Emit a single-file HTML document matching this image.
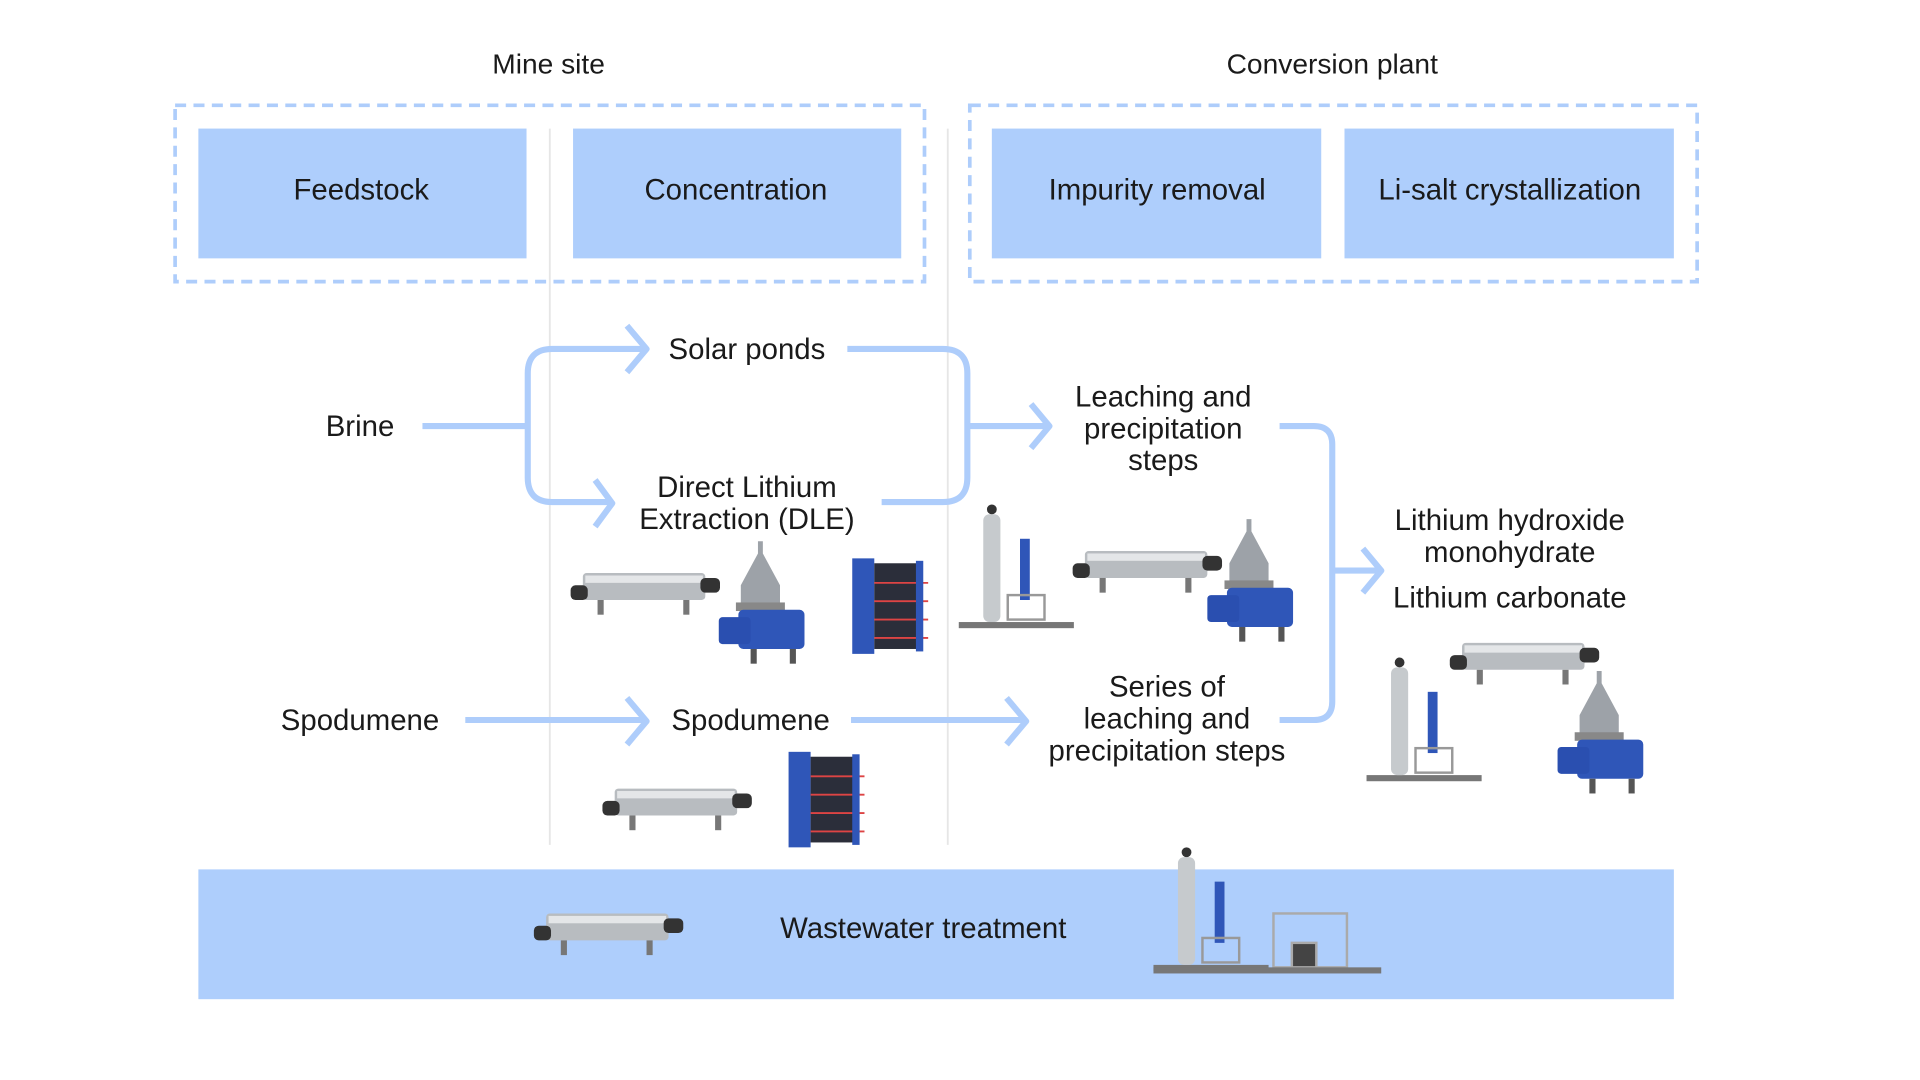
<!DOCTYPE html>
<html><head><meta charset="utf-8"><style>html,body{margin:0;padding:0;background:#fff}svg{display:block}</style></head>
<body>
<svg width="1920" height="1080" viewBox="0 0 1568 882" preserveAspectRatio="none" xmlns="http://www.w3.org/2000/svg" font-family="Liberation Sans, sans-serif" fill="#1a1a1a">
<defs>
<g id="dec">
<rect x="0" y="0" width="100" height="22" rx="3" fill="#b8bcc0"/>
<rect x="2" y="2" width="96" height="6" fill="#e4e6e8"/>
<rect x="-10" y="10" width="14" height="12" rx="4" fill="#333"/>
<rect x="96" y="4" width="16" height="12" rx="4" fill="#333"/>
<rect x="12" y="22" width="5" height="12" fill="#777"/>
<rect x="82" y="22" width="5" height="12" fill="#777"/>
</g>
<g id="cen">
<path d="M32 0 L36 0 L36 10 L50 36 L50 52 L18 52 L18 36 L32 10Z" fill="#9da2a8"/>
<rect x="14" y="50" width="40" height="7" fill="#888"/>
<rect x="16" y="56" width="54" height="32" rx="4" fill="#2f56b8"/>
<rect x="0" y="62" width="26" height="22" rx="3" fill="#2a4fb0"/>
<rect x="26" y="88" width="5" height="12" fill="#555"/>
<rect x="58" y="88" width="5" height="12" fill="#555"/>
</g>
<g id="phx">
<rect x="0" y="0" width="18" height="78" fill="#2f56b8"/>
<rect x="18" y="4" width="36" height="70" fill="#2b2e3a"/>
<g stroke="#d44" stroke-width="1.5"><line x1="18" y1="20" x2="62" y2="20"/><line x1="18" y1="35" x2="62" y2="35"/><line x1="18" y1="50" x2="62" y2="50"/><line x1="18" y1="65" x2="62" y2="65"/></g>
<rect x="52" y="2" width="6" height="74" fill="#2f56b8"/>
</g>
<g id="evap">
<rect x="0" y="98" width="94" height="5" fill="#777"/>
<rect x="20" y="10" width="14" height="88" rx="5" fill="#c6cacd"/>
<circle cx="27" cy="6" r="4" fill="#333"/>
<rect x="50" y="30" width="8" height="50" fill="#2f56b8"/>
<rect x="40" y="76" width="30" height="20" fill="none" stroke="#999" stroke-width="2"/>
</g>
</defs>

<text x="448" y="60" font-size="23" text-anchor="middle">Mine site</text>
<text x="1088" y="60" font-size="23" text-anchor="middle">Conversion plant</text>

<g fill="none" stroke="#aecdfb" stroke-width="3" stroke-dasharray="9 6">
<rect x="143" y="86" width="612" height="144"/>
<rect x="792" y="86" width="594" height="144"/>
</g>
<line x1="449" y1="105" x2="449" y2="690" stroke="#e6e6e6" stroke-width="1.5"/>
<line x1="774" y1="105" x2="774" y2="690" stroke="#e6e6e6" stroke-width="1.5"/>

<g fill="#aecefc">
<rect x="162" y="105" width="268" height="106"/>
<rect x="468" y="105" width="268" height="106"/>
<rect x="810" y="105" width="269" height="106"/>
<rect x="1098" y="105" width="269" height="106"/>
<rect x="162" y="710" width="1205" height="106"/>
</g>
<g font-size="24" text-anchor="middle">
<text x="295" y="163">Feedstock</text>
<text x="601" y="163">Concentration</text>
<text x="945" y="163">Impurity removal</text>
<text x="1233" y="163">Li-salt crystallization</text>
<text x="754" y="766">Wastewater treatment</text>
</g>

<g fill="none" stroke="#aecdfb" stroke-width="5" stroke-linejoin="round">
<path d="M345 348 H431"/>
<path d="M525 285 H451 Q431 285 431 305 V390 Q431 410 451 410 H500"/>
<path d="M512 266 L528 285 L512 304"/>
<path d="M486 392 L500 411 L486 430"/>
<path d="M692 285 H770 Q790 285 790 305 V390 Q790 410 770 410 H720"/>
<path d="M790 348 H857"/>
<path d="M842 330 L857 348 L842 366"/>
<path d="M1045 348 H1073 Q1088 348 1088 363 V573 Q1088 588 1073 588 H1045"/>
<path d="M1088 466 H1128"/>
<path d="M1113 448 L1128 466 L1113 484"/>
<path d="M380 588 H528"/>
<path d="M512 570 L528 589 L512 608"/>
<path d="M695 588 H838"/>
<path d="M822 570 L838 589 L822 608"/>
</g>

<g font-size="24" text-anchor="middle">
<text x="294" y="356">Brine</text>
<text x="610" y="293">Solar ponds</text>
<text x="610" y="406">Direct Lithium</text>
<text x="610" y="432">Extraction (DLE)</text>
<text x="950" y="332">Leaching and</text>
<text x="950" y="358">precipitation</text>
<text x="950" y="384">steps</text>
<text x="953" y="569">Series of</text>
<text x="953" y="595">leaching and</text>
<text x="953" y="621">precipitation steps</text>
<text x="1233" y="433">Lithium hydroxide</text>
<text x="1233" y="459">monohydrate</text>
<text x="1233" y="496">Lithium carbonate</text>
<text x="294" y="596">Spodumene</text>
<text x="613" y="596">Spodumene</text>
</g>

<use href="#dec" x="476" y="468"/>
<use href="#cen" x="587" y="442"/>
<use href="#phx" x="696" y="456"/>
<use href="#evap" x="783" y="410"/>
<use href="#dec" x="886" y="450"/>
<use href="#cen" x="986" y="424"/>
<use href="#evap" x="1116" y="535"/>
<use href="#dec" x="1194" y="525"/>
<use href="#cen" x="1272" y="548"/>
<use href="#dec" x="502" y="644"/>
<use href="#phx" x="644" y="614"/>
<use href="#dec" x="446" y="746"/>
<use href="#evap" x="942" y="690"/>
<g fill="none" stroke="#aaa" stroke-width="2"><rect x="1040" y="746" width="60" height="44"/><rect x="1055" y="770" width="20" height="20" fill="#444"/></g>
<rect x="942" y="790" width="186" height="5" fill="#777"/>
</svg>
</body></html>
